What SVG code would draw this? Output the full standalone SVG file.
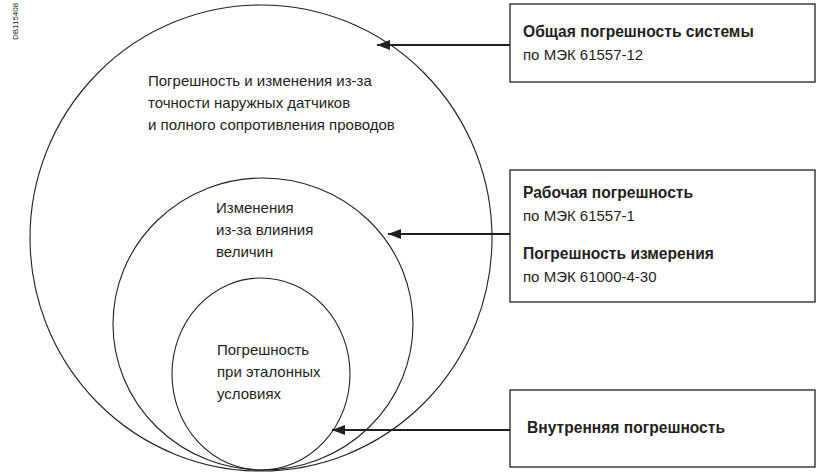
<svg xmlns="http://www.w3.org/2000/svg" width="819" height="474" viewBox="0 0 819 474">
<defs>
<marker id="ah" viewBox="0 0 13 10" refX="13" refY="5" markerWidth="13" markerHeight="10" markerUnits="userSpaceOnUse" orient="auto">
<path d="M0,0 L13,5 L0,10 Z" fill="#231f20"/>
</marker>
</defs>
<style>
.c{fill:none;stroke:#231f20;stroke-width:1.1}
.b{fill:#fff;stroke:#231f20;stroke-width:1.3}
.a{fill:none;stroke:#231f20;stroke-width:1.8}
text{font-family:"Liberation Sans","Noto Sans",Arial,sans-serif;fill:#231f20;font-size:15px}
.bd{font-weight:bold;font-size:15.6px}
</style>
<rect width="819" height="474" fill="#fff"/>
<text transform="translate(18,40) rotate(-90)" style="font-size:8px">DB115408</text>
<g id="outer">
<ellipse class="c" cx="261" cy="238" rx="231" ry="233"/>
<text x="148" y="86">Погрешность и изменения из-за</text>
<text x="148" y="108">точности наружных датчиков</text>
<text x="148" y="130">и полного сопротивления проводов</text>
</g>
<g id="middle">
<ellipse class="c" cx="263" cy="324" rx="150" ry="146"/>
<text x="216" y="213">Изменения</text>
<text x="216" y="235">из-за влияния</text>
<text x="216" y="257">величин</text>
</g>
<g id="inner">
<ellipse class="c" cx="261" cy="374" rx="89" ry="96"/>
<text x="217" y="355">Погрешность</text>
<text x="217" y="377">при эталонных</text>
<text x="217" y="399">условиях</text>
</g>
<g id="box-total">
<rect class="b" x="510" y="4" width="305" height="78"/>
<text class="bd" x="523" y="37">Общая погрешность системы</text>
<text x="523" y="60">по МЭК 61557-12</text>
</g>
<g id="box-working">
<rect class="b" x="510" y="170" width="305" height="132"/>
<text class="bd" x="523" y="198">Рабочая погрешность</text>
<text x="523" y="221">по МЭК 61557-1</text>
<text class="bd" x="523" y="259">Погрешность измерения</text>
<text x="523" y="282">по МЭК 61000-4-30</text>
</g>
<g id="box-intrinsic">
<rect class="b" x="510" y="390" width="305" height="77"/>
<text class="bd" x="527" y="433">Внутренняя погрешность</text>
</g>
<g id="connectors">
<path class="a" d="M510,45 H377" marker-end="url(#ah)"/>
<path class="a" d="M510,234 H388" marker-end="url(#ah)"/>
<path class="a" d="M510,430 H332" marker-end="url(#ah)"/>
</g>
</svg>
